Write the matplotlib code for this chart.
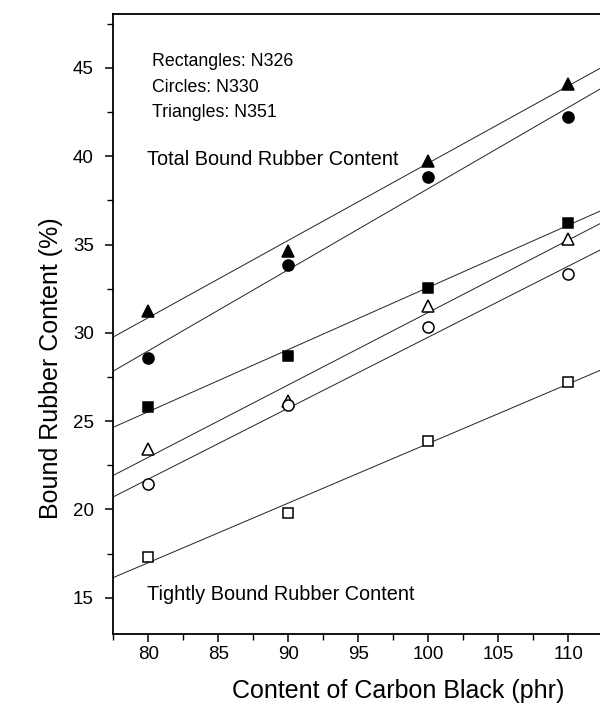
import numpy as np
import matplotlib
matplotlib.use("Agg")
import matplotlib.pyplot as plt
from matplotlib.ticker import MultipleLocator

plt.rcParams['font.family'] = ['Liberation Sans', 'DejaVu Sans']

carbon_black = [80, 90, 100, 110]
# Total bound rubber (filled markers)
total_n326 = [25.79, 28.68, 32.55, 36.23]   # squares
total_n330 = [28.59, 33.83, 38.83, 42.23]   # circles
total_n351 = [31.23, 34.62, 39.72, 44.11]   # triangles
# Tightly bound rubber (open markers)
tight_n326 = [17.33, 19.78, 23.87, 27.21]
tight_n330 = [21.42, 25.90, 30.32, 33.34]
tight_n351 = [23.45, 26.13, 31.51, 35.32]

fig = plt.figure(figsize=(6.0, 7.04), dpi=100)
ax = fig.add_axes([113.3 / 600, 70 / 704, 1 - 113.3 / 600, 620 / 704])
ax.set_xlim(77.5, 112.27)
ax.set_ylim(12.95, 48.05)
ax.spines['right'].set_visible(False)

x = np.array(carbon_black, dtype=float)
xfit = np.array([77.5, 115.0])

series = [
    (total_n351, '^', 'k', 8.5),
    (total_n330, 'o', 'k', 8),
    (total_n326, 's', 'k', 7),
    (tight_n351, '^', 'none', 8.5),
    (tight_n330, 'o', 'none', 8),
    (tight_n326, 's', 'none', 7),
]
for vals, m, fc, ms in series:
    y = np.array(vals)
    k, b = np.polyfit(x, y, 1)
    ax.plot(xfit, k * xfit + b, color='#222222', lw=0.7, zorder=2)
    ax.plot(x, y, linestyle='none', marker=m, markersize=ms,
            markerfacecolor=fc if fc != 'none' else 'white',
            markeredgecolor='k', markeredgewidth=1.1, zorder=3,
            clip_on=False)

ax.xaxis.set_major_locator(MultipleLocator(5))
ax.xaxis.set_minor_locator(MultipleLocator(2.5))
ax.yaxis.set_major_locator(MultipleLocator(5))
ax.yaxis.set_minor_locator(MultipleLocator(2.5))
ax.tick_params(which='major', direction='out', length=6, width=1.1,
               labelsize=13.5, pad=8)
ax.tick_params(axis='x', which='major', pad=2.5)
ax.tick_params(which='minor', direction='out', length=4, width=1.0)
ax.tick_params(axis='both', which='both', top=False, right=False)
for s in ax.spines.values():
    s.set_linewidth(1.3)

ax.set_xlabel('Content of Carbon Black (phr)', fontsize=18)
ax.set_ylabel('Bound Rubber Content (%)', fontsize=18)
ax.xaxis.set_label_coords(0.585, -0.073)
ax.yaxis.set_label_coords(-0.104, 0.429)

ax.text(80.3, 45.36, 'Rectangles: N326', fontsize=12.8, va='center', ha='left')
ax.text(80.3, 43.9, 'Circles: N330', fontsize=12.8, va='center', ha='left')
ax.text(80.3, 42.47, 'Triangles: N351', fontsize=12.8, va='center', ha='left')
ax.text(79.9, 39.8, 'Total Bound Rubber Content', fontsize=14.3, va='center', ha='left')
ax.text(79.9, 15.2, 'Tightly Bound Rubber Content', fontsize=14.3, va='center', ha='left')

fig.savefig('out.png', dpi=100)
